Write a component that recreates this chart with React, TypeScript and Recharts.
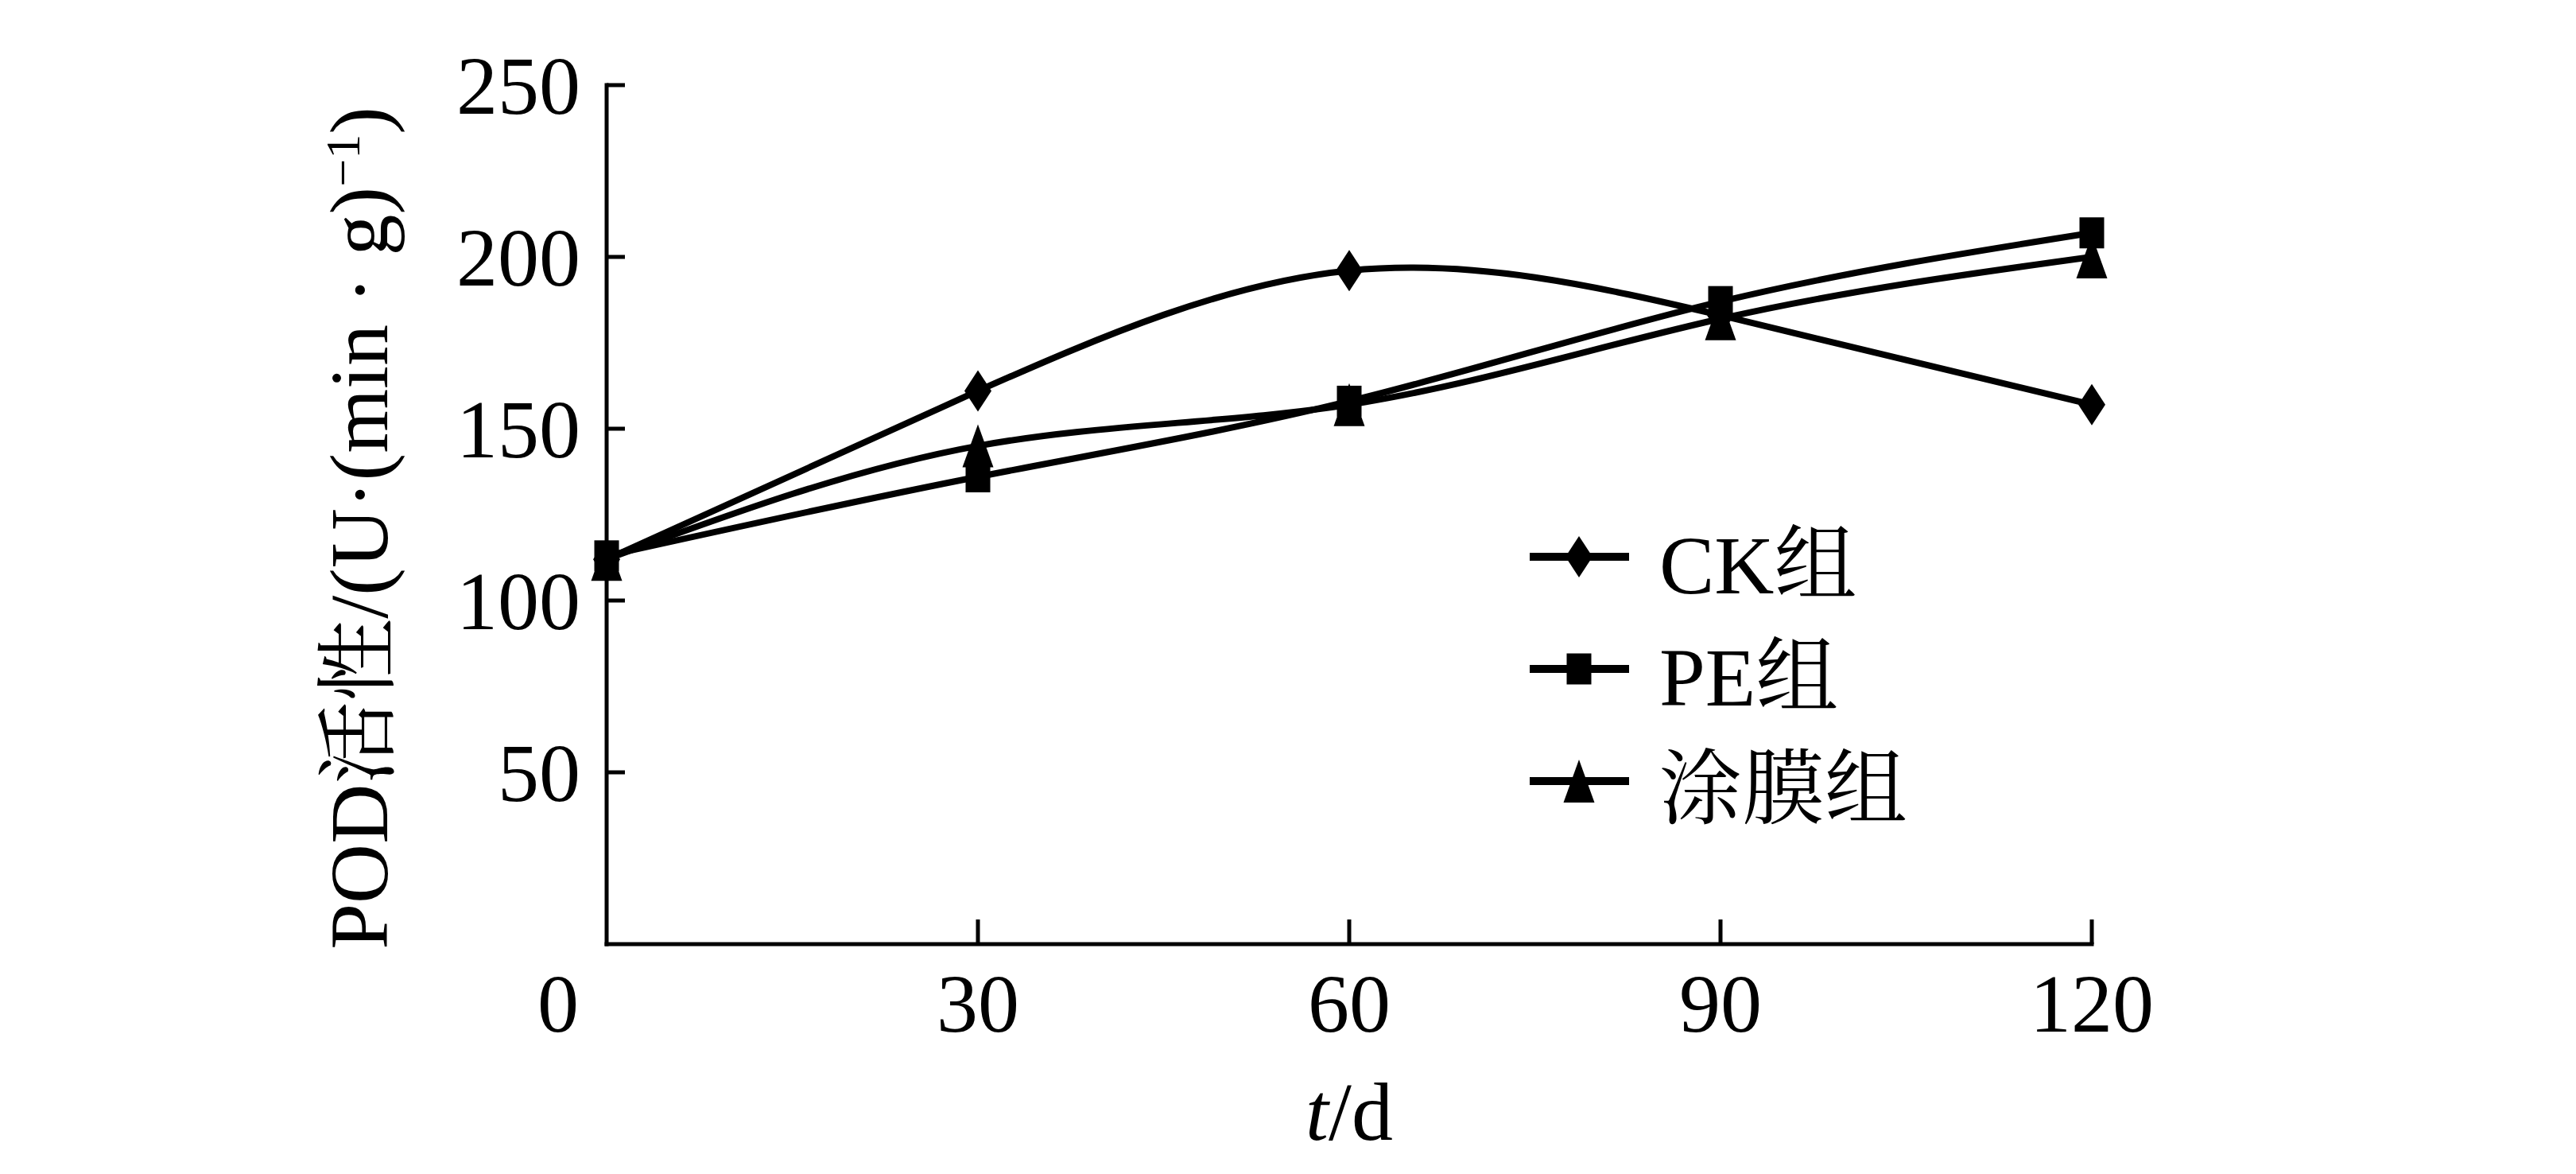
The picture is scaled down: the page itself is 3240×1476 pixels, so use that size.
import React from "react";
import { LineChart, Line, XAxis, YAxis, Legend } from "recharts";

const days = [0, 30, 60, 90, 120];
const ckValues = [112, 161, 196, 183, 157];
const peValues = [113, 136, 158, 187, 207];
const coatValues = [112, 145, 157, 182, 200];
const xTicks = [0, 30, 60, 90, 120];
const yTicks = [50, 100, 150, 200, 250];
const seriesNames = ["CK组", "PE组", "涂膜组"];

const data = days.map((d, i) => ({
  day: d,
  ck: ckValues[i],
  pe: peValues[i],
  coat: coatValues[i],
}));

const FONT = "'Liberation Serif', 'Times New Roman', 'Noto Serif CJK SC', 'Noto Sans CJK SC', serif";
const FS = 104;

type MarkerKind = "diamond" | "square" | "triangle";

const marker = (kind: MarkerKind, cx: number, cy: number, key?: string) => {
  if (kind === "diamond") {
    const w = 17, h = 26;
    return <polygon key={key} points={`${cx},${cy - h} ${cx + w},${cy} ${cx},${cy + h} ${cx - w},${cy}`} fill="#000" />;
  }
  if (kind === "square") {
    const w = 15.5, h = 19.5;
    return <rect key={key} x={cx - w} y={cy - h} width={w * 2} height={h * 2} fill="#000" />;
  }
  const w = 19.5, h = 27;
  return <polygon key={key} points={`${cx},${cy - h} ${cx + w},${cy + h} ${cx - w},${cy + h}`} fill="#000" />;
};

const makeDot = (kind: MarkerKind, prefix: string) => (props: any) => {
  const { cx, cy, index } = props;
  if (cx == null || cy == null) return <g key={`${prefix}-${index}`} />;
  return marker(kind, cx, cy, `${prefix}-${index}`);
};

const XTick = (props: any) => {
  const { x, y, payload } = props;
  const v = payload.value;
  return (
    <g>
      {v !== 0 && <line x1={x} y1={y} x2={x} y2={y - 31} stroke="#000" strokeWidth={5} />}
      <text x={v === 0 ? x - 61 : x} y={y + 110} textAnchor="middle" fontSize={FS} fontFamily={FONT} fill="#000">
        {v}
      </text>
    </g>
  );
};

const YTick = (props: any) => {
  const { x, y, payload } = props;
  return (
    <g>
      <line x1={x} y1={y} x2={x + 23} y2={y} stroke="#000" strokeWidth={5} />
      <text x={x - 33} y={y + 36} textAnchor="end" fontSize={FS} fontFamily={FONT} fill="#000">
        {payload.value}
      </text>
    </g>
  );
};

const YLabel = (props: any) => {
  const vb = props.viewBox || { x: 0, y: 107, width: 763, height: 1080 };
  const cx = 487;
  const cy = vb.y + vb.height / 2 + 17;
  return (
    <text
      x={cx}
      y={cy}
      transform={`rotate(-90 ${cx} ${cy})`}
      textAnchor="middle"
      fontSize={FS}
      fontFamily={FONT}
      fill="#000"
    >
      POD活性/(U·(min · g)
      <tspan dy={-35} fontSize={62}>−1</tspan>
      <tspan dy={35}>)</tspan>
    </text>
  );
};

const XLabel = (props: any) => {
  const vb = props.viewBox || { x: 763, y: 1187, width: 1868, height: 289 };
  const cx = vb.x + vb.width / 2;
  return (
    <text x={cx} y={1433} textAnchor="middle" fontSize={FS} fontFamily={FONT} fill="#000">
      <tspan fontStyle="italic">t</tspan>
      <tspan>/d</tspan>
    </text>
  );
};

const kinds: MarkerKind[] = ["diamond", "square", "triangle"];

const LegendContent = () => (
  <svg width={700} height={420} style={{ display: "block" }}>
    {seriesNames.map((name, i) => {
      const cy = 70 + i * 141;
      return (
        <g key={name}>
          <line x1={24} y1={cy} x2={149} y2={cy} stroke="#000" strokeWidth={10} />
          {marker(kinds[i], 86, cy)}
          <text x={187} y={cy + 46} fontSize={FS} fontFamily={FONT} fill="#000">
            {name}
          </text>
        </g>
      );
    })}
  </svg>
);

export default function App() {
  return (
    <div style={{ position: "absolute", left: 0, top: 0, width: 3240, height: 1476, background: "#fff" }}>
      <LineChart
        width={3240}
        height={1476}
        data={data}
        margin={{ top: 107, right: 609, left: 0, bottom: 0 }}
      >
        <XAxis
          dataKey="day"
          type="number"
          domain={[0, 120]}
          ticks={xTicks}
          height={289}
          tickSize={0}
          tickMargin={0}
          tickLine={false}
          tick={<XTick />}
          axisLine={{ stroke: "#000", strokeWidth: 5, strokeLinecap: "square" }}
          label={{ content: <XLabel /> }}
        />
        <YAxis
          type="number"
          domain={[0, 250]}
          ticks={yTicks}
          width={763}
          tickSize={0}
          tickMargin={0}
          tickLine={false}
          tick={<YTick />}
          axisLine={{ stroke: "#000", strokeWidth: 5, strokeLinecap: "square" }}
          label={{ content: <YLabel /> }}
        />
        <Legend
          layout="vertical"
          align="center"
          verticalAlign="middle"
          content={<LegendContent />}
          wrapperStyle={{ left: 1900, top: 630, width: 700, height: 420 }}
        />
        <Line
          type="natural"
          dataKey="ck"
          name={seriesNames[0]}
          stroke="#000"
          strokeWidth={8}
          dot={makeDot("diamond", "ck")}
          activeDot={false}
          isAnimationActive={false}
        />
        <Line
          type="natural"
          dataKey="pe"
          name={seriesNames[1]}
          stroke="#000"
          strokeWidth={8}
          dot={makeDot("square", "pe")}
          activeDot={false}
          isAnimationActive={false}
        />
        <Line
          type="natural"
          dataKey="coat"
          name={seriesNames[2]}
          stroke="#000"
          strokeWidth={8}
          dot={makeDot("triangle", "coat")}
          activeDot={false}
          isAnimationActive={false}
        />
      </LineChart>
    </div>
  );
}
